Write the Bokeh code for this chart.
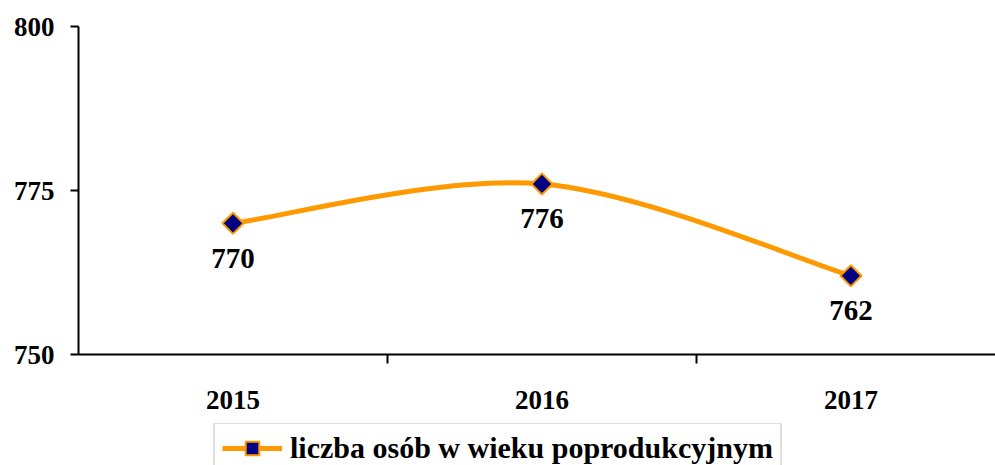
from bokeh.plotting import figure
from bokeh.layouts import column
from bokeh.models import (FixedTicker, Legend, LegendItem, ColumnDataSource, Range1d)
from bokeh.core.properties import value
from bokeh.embed import file_html
from bokeh.resources import INLINE
import math

# ---- data ----
years = ["2015", "2016", "2017"]
values = [770, 776, 762]
y_ticks = [750, 775, 800]
series_name = "liczba osób w wieku poprodukcyjnym"

ORANGE = "#FF9900"
NAVY = "#000080"
FONT = "Liberation Serif"

xs = list(range(len(years)))

p = figure(width=995, height=423, output_backend="svg", toolbar_location=None,
           x_range=Range1d(-0.5, 2.468), y_range=Range1d(750, 800),
           min_border_left=78, min_border_right=0, min_border_top=26,
           min_border_bottom=69)
p.outline_line_color = None
p.xgrid.visible = False
p.ygrid.visible = False
p.background_fill_color = "white"
p.border_fill_color = "white"

# Smoothed curve (Catmull-Rom style Bezier segments like spreadsheet smoothing)
pts = list(zip(xs, values))
x0s, y0s, x1s, y1s, cx0s, cy0s, cx1s, cy1s = [], [], [], [], [], [], [], []
for i in range(len(pts) - 1):
    pm = pts[i - 1] if i > 0 else pts[i]
    pa = pts[i]
    pb = pts[i + 1]
    pn = pts[i + 2] if i + 2 < len(pts) else pts[i + 1]
    x0s.append(pa[0]); y0s.append(pa[1])
    x1s.append(pb[0]); y1s.append(pb[1])
    cx0s.append(pa[0] + (pb[0] - pm[0]) / 6.0)
    cy0s.append(pa[1] + (pb[1] - pm[1]) / 6.0)
    cx1s.append(pb[0] - (pn[0] - pa[0]) / 6.0)
    cy1s.append(pb[1] - (pn[1] - pa[1]) / 6.0)

p.bezier(x0=x0s, y0=y0s, x1=x1s, y1=y1s, cx0=cx0s, cy0=cy0s, cx1=cx1s, cy1=cy1s,
         line_color=ORANGE, line_width=5)

src = ColumnDataSource(dict(x=xs, y=values, lbl=[str(v) for v in values]))
p.scatter("x", "y", source=src, marker="square", size=15, angle=math.pi / 4,
          fill_color=NAVY, line_color=ORANGE, line_width=2)

p.text("x", "y", text="lbl", source=src, text_align="center", text_baseline="middle",
       y_offset=35, text_font=value(FONT), text_font_style="bold",
       text_font_size="29px", text_color="black")

# y axis
ya = p.yaxis[0]
ya.ticker = FixedTicker(ticks=y_ticks)
ya.major_tick_out = 8
ya.major_tick_in = 0
ya.minor_tick_out = 0
ya.minor_tick_in = 0
ya.axis_line_width = 2
ya.major_tick_line_width = 2
ya.major_label_standoff = 16
ya.major_label_text_font = FONT
ya.major_label_text_font_style = "bold"
ya.major_label_text_font_size = "27px"
ya.major_label_text_color = "black"

# x axis: labels at category centres, tick marks between categories
xa = p.xaxis[0]
xa.ticker = FixedTicker(ticks=xs, minor_ticks=[i + 0.5 for i in xs[:-1]])
xa.major_label_overrides = {i: y for i, y in zip(xs, years)}
xa.major_tick_out = 0
xa.major_tick_in = 0
xa.minor_tick_out = 9
xa.minor_tick_in = 0
xa.minor_tick_line_width = 2
xa.axis_line_width = 2
xa.major_label_standoff = 27
xa.major_label_text_font = FONT
xa.major_label_text_font_style = "bold"
xa.major_label_text_font_size = "27px"
xa.major_label_text_color = "black"

# ---- legend strip (its renderers use the same data, outside this strip's view) ----
lg = figure(width=995, height=42, output_backend="svg", toolbar_location=None,
            x_range=Range1d(0, 1), y_range=Range1d(0, 1),
            min_border=0, x_axis_location=None, y_axis_location=None)
lg.outline_line_color = None
lg.xgrid.visible = False
lg.ygrid.visible = False
lg_line = lg.line(x=xs, y=values, line_color=ORANGE, line_width=5)
lg_pts = lg.scatter(x=xs, y=values, marker="square", size=18, angle=math.pi / 4,
                    fill_color=NAVY, line_color=ORANGE, line_width=2)

legend = Legend(items=[LegendItem(label=series_name, renderers=[lg_line, lg_pts])],
                location=(135, -9), orientation="horizontal",
                border_line_color="#BFBFBF", border_line_width=2,
                label_text_font=FONT, label_text_font_style="bold",
                label_text_font_size="30px", label_text_color="black",
                label_height=30, glyph_width=60, glyph_height=34, label_standoff=8,
                padding=7, margin=0, spacing=0, background_fill_alpha=1)
lg.add_layout(legend, "center")

layout = column(p, lg, spacing=0)
open("out.html", "w").write(file_html(layout, INLINE))
